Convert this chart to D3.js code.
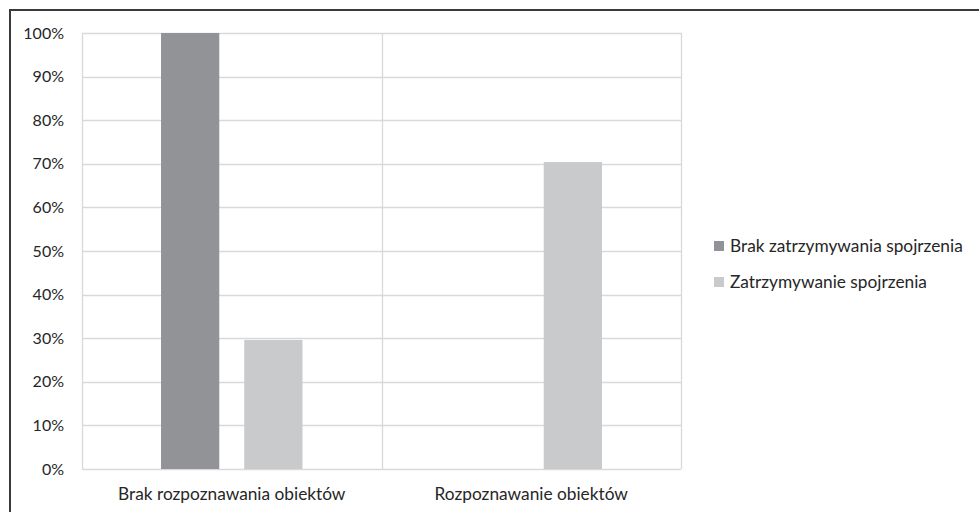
<!DOCTYPE html>
<html>
<head>
<meta charset="utf-8">
<script src="https://cdn.jsdelivr.net/npm/d3@7"></script>
<style>
  html, body { margin: 0; padding: 0; background: #fff; }
  svg text { font-family: Lato, "Open Sans", sans-serif; fill: #262626; }
</style>
</head>
<body>
<svg id="chart" width="979" height="512"></svg>
<script>
// Data
const categories = ["Brak rozpoznawania obiektów", "Rozpoznawanie obiektów"];
const seriesNames = ["Brak zatrzymywania spojrzenia", "Zatrzymywanie spojrzenia"];
const seriesValues = [
  [1.0, 0.0],     // Brak zatrzymywania spojrzenia
  [0.296, 0.704]  // Zatrzymywanie spojrzenia
];
const yTicks = [0, 0.1, 0.2, 0.3, 0.4, 0.5, 0.6, 0.7, 0.8, 0.9, 1.0];
const colors = ["#929397", "#c9cacc"];

const svg = d3.select("#chart");
const margin = { left: 82, right: 298, top: 33, bottom: 43 };
const W = 979, H = 512;
const plotW = W - margin.left - margin.right;
const plotH = H - margin.top - margin.bottom;

// Outer frame
svg.append("rect")
  .attr("x", 10).attr("y", 10)
  .attr("width", W + 20).attr("height", H + 20)
  .attr("fill", "none").attr("stroke", "#3a3a3a").attr("stroke-width", 2);

const g = svg.append("g").attr("transform", `translate(${margin.left},${margin.top})`);

const x0 = d3.scaleBand().domain(categories).range([0, plotW]).paddingInner(0).paddingOuter(0);
const x1 = d3.scaleBand().domain(seriesNames).range([0, x0.bandwidth()]).paddingInner(0.3).paddingOuter(0.95);
const y = d3.scaleLinear().domain([0, 1]).range([plotH, 0]);

// Horizontal gridlines
g.append("g").selectAll("line").data(yTicks).join("line")
  .attr("x1", 0).attr("x2", plotW)
  .attr("y1", d => Math.round(y(d)) + 0.5).attr("y2", d => Math.round(y(d)) + 0.5)
  .attr("stroke", "#d9d9d9").attr("stroke-width", 1.3);

// Vertical category separators
const seps = [0].concat(categories.map(c => x0(c) + x0.bandwidth()));
g.append("g").selectAll("line").data(seps).join("line")
  .attr("x1", d => Math.round(d) + 0.5).attr("x2", d => Math.round(d) + 0.5)
  .attr("y1", 0).attr("y2", plotH)
  .attr("stroke", "#d9d9d9").attr("stroke-width", 1.3);

// Bars
const groups = g.append("g").selectAll("g").data(categories).join("g")
  .attr("transform", c => `translate(${x0(c)},0)`);
groups.selectAll("rect")
  .data((c, ci) => seriesNames.map((s, si) => ({ s, si, v: seriesValues[si][ci] })))
  .join("rect")
  .attr("x", d => x1(d.s))
  .attr("width", x1.bandwidth())
  .attr("y", d => y(d.v))
  .attr("height", d => y(0) - y(d.v))
  .attr("fill", d => colors[d.si]);

// Y axis labels
const yAxis = d3.axisLeft(y).tickValues(yTicks).tickFormat(d3.format(".0%")).tickSize(0).tickPadding(18);
const ya = g.append("g").call(yAxis);
ya.select(".domain").remove();
ya.selectAll("text").style("font-size", "16px").attr("fill", "#262626");

// X axis labels
const xAxis = d3.axisBottom(x0).tickSize(0).tickPadding(19);
const xa = g.append("g").attr("transform", `translate(0,${plotH})`).call(xAxis);
xa.select(".domain").remove();
xa.selectAll("text").style("font-size", "17.3px").attr("fill", "#262626");

// Legend
const legend = svg.append("g").attr("transform", "translate(714,246)");
const items = legend.selectAll("g").data(seriesNames).join("g")
  .attr("transform", (d, i) => `translate(0,${i * 36})`);
items.append("rect").attr("x", 0).attr("y", -5).attr("width", 10).attr("height", 10)
  .attr("fill", (d, i) => colors[i]);
items.append("text").attr("x", 16).attr("y", 0).attr("dy", "0.35em")
  .style("font-size", "17.3px").text(d => d);
</script>
</body>
</html>
